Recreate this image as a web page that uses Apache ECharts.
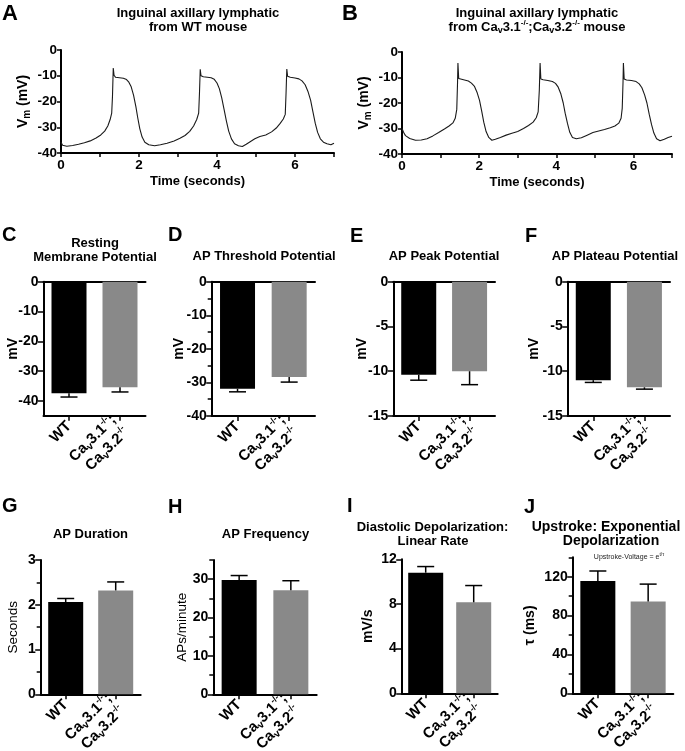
<!DOCTYPE html>
<html>
<head>
<meta charset="utf-8">
<script src="https://cdn.jsdelivr.net/npm/echarts@6.0.0/dist/echarts.min.js"></script>
<style>
html,body{margin:0;padding:0;background:#fff;}
#chart{width:685px;height:751px;}
</style>
</head>
<body>
<div id="chart"></div>
<script>
// ================= DATA =================
// Panel A trace (WT): time (s) and membrane potential (mV)
const traceATime = [0.00,0.04,0.15,0.30,0.45,0.60,0.75,0.90,1.02,1.12,1.20,1.26,1.30,1.32,1.34,1.36,1.40,1.50,1.60,1.68,1.74,1.80,1.86,1.92,1.97,2.02,2.08,2.15,2.25,2.40,2.55,2.72,2.90,3.05,3.18,3.30,3.40,3.48,3.53,3.55,3.57,3.59,3.65,3.75,3.85,3.93,4.00,4.06,4.12,4.18,4.24,4.30,4.37,4.45,4.55,4.65,4.75,4.85,4.97,5.10,5.25,5.40,5.52,5.62,5.70,5.75,5.77,5.79,5.81,5.88,6.00,6.10,6.18,6.26,6.33,6.40,6.46,6.52,6.58,6.65,6.73,6.82,6.92,7.00];
const traceAVm   = [-35.8,-37.0,-37.4,-37.1,-36.6,-36.0,-35.3,-34.2,-33.0,-31.5,-29.5,-27.0,-24.5,-18.0,-7.0,-9.8,-10.6,-10.8,-11.0,-11.5,-12.5,-14.3,-17.5,-22.0,-26.5,-30.5,-33.8,-35.8,-36.8,-37.2,-36.8,-36.2,-35.3,-34.3,-33.2,-31.6,-29.5,-27.0,-24.5,-17.0,-7.5,-10.0,-10.4,-10.6,-10.8,-11.4,-12.8,-15.0,-18.5,-23.0,-27.5,-31.5,-34.5,-36.4,-37.2,-37.5,-36.6,-35.6,-34.5,-33.6,-33.0,-31.8,-30.3,-28.5,-26.8,-25.0,-17.0,-7.4,-10.2,-10.6,-10.9,-11.2,-12.0,-13.5,-16.0,-19.5,-24.0,-28.5,-32.0,-34.5,-35.8,-36.4,-36.8,-36.2];
// Panel B trace (Cav3.1-/-;Cav3.2-/-)
const traceBTime = [0.00,0.04,0.09,0.20,0.35,0.50,0.65,0.80,0.95,1.10,1.22,1.32,1.38,1.42,1.44,1.45,1.47,1.52,1.62,1.72,1.80,1.88,1.95,2.01,2.07,2.12,2.18,2.25,2.33,2.42,2.55,2.70,2.85,3.00,3.15,3.28,3.40,3.48,3.53,3.56,3.58,3.60,3.66,3.78,3.90,3.98,4.05,4.12,4.18,4.23,4.29,4.35,4.42,4.52,4.65,4.80,4.95,5.10,5.25,5.40,5.52,5.62,5.68,5.71,5.73,5.74,5.76,5.82,5.95,6.07,6.15,6.22,6.29,6.35,6.41,6.47,6.53,6.60,6.69,6.80,6.90,7.00];
const traceBVm   = [-30.0,-31.5,-32.8,-33.9,-34.6,-34.5,-34.0,-32.9,-31.6,-30.2,-29.0,-27.8,-26.0,-22.5,-12.0,-4.3,-10.4,-10.8,-11.0,-11.4,-12.2,-13.5,-16.0,-19.0,-23.5,-27.5,-31.2,-33.5,-34.6,-34.2,-33.5,-32.6,-31.9,-31.2,-30.0,-28.8,-27.5,-25.8,-23.5,-15.0,-4.3,-10.6,-10.9,-11.2,-11.6,-12.3,-13.8,-16.5,-20.0,-24.0,-28.0,-31.5,-33.5,-34.0,-33.6,-32.6,-31.6,-31.0,-30.4,-29.7,-29.0,-27.9,-26.0,-22.0,-12.0,-4.3,-10.6,-11.0,-11.2,-11.6,-12.5,-14.0,-16.8,-20.0,-24.5,-28.5,-31.8,-34.0,-34.8,-34.2,-33.5,-33.0];
const traceXTicks  = [0,1,2,3,4,5,6,7];
const traceXLabels = [0,2,4,6];
const traceYTicks  = [0,-10,-20,-30,-40];

// Bar panels: groups, means and SEM
const groups = ['WT', 'Cav3.1-/-;Cav3.2-/-'];
const restingMean    = [-37.4, -35.4];  const restingSem    = [1.3, 1.6];
const thresholdMean  = [-31.9, -28.4];  const thresholdSem  = [0.9, 1.5];
const peakMean       = [-10.4, -10.0];  const peakSem       = [0.6, 1.5];
const plateauMean    = [-11.0, -11.8];  const plateauSem    = [0.25, 0.2];
const durationMean   = [2.06, 2.32];    const durationSem   = [0.08, 0.19];
const frequencyMean  = [29.8, 27.1];    const frequencySem  = [1.15, 2.5];
const diastolicMean  = [10.8, 8.15];    const diastolicSem  = [0.55, 1.5];
const upstrokeMean   = [115.5, 94.5];   const upstrokeSem   = [10.4, 17.9];

// Tick values
const restingTicks   = [0,-10,-20,-30,-40];
const thresholdTicks = [0,-10,-20,-30,-40]; const thresholdMinor = [-5,-15,-25,-35];
const peakTicks      = [0,-5,-10,-15];
const plateauTicks   = [0,-5,-10,-15];
const durationTicks  = [0,1,2,3];           const durationMinor  = [0.5,1.5,2.5];
const frequencyTicks = [0,10,20,30];        const frequencyMinor = [5,15,25,35];
const diastolicTicks = [0,4,8,12];
const upstrokeTicks  = [0,40,80,120];       const upstrokeMinor  = [20,60,100,140];

// ================= BUILD =================
const FONT = '"Liberation Sans", Arial, Helvetica, sans-serif';
const BAR_COLORS = ['#000000', '#898989'];
const SUBRICH = {
  n: {fontSize: 15, fontWeight: 'bold', fontFamily: FONT, color: '#000', lineHeight: 18},
  s: {fontSize: 10, fontWeight: 'bold', fontFamily: FONT, color: '#000', verticalAlign: 'bottom'},
  p: {fontSize: 9, fontWeight: 'bold', fontFamily: FONT, color: '#000', verticalAlign: 'top'}
};

const option = {
  animation: false,
  backgroundColor: '#ffffff',
  grid: [], xAxis: [], yAxis: [], series: [], graphic: []
};

function tickLabelStyle(size, extra) {
  return Object.assign({color: '#000', fontFamily: FONT, fontWeight: 'bold', fontSize: size}, extra || {});
}

function addTrace(p) {
  const gi = option.grid.length;
  option.grid.push({left: p.left, top: p.top, width: p.width, height: p.height, containLabel: false, outerBoundsMode: 'none'});
  const xi = option.xAxis.length;
  option.xAxis.push({
    gridIndex: gi, type: 'value', min: 0, max: 7,
    axisLine: {show: true, onZero: false, lineStyle: {color: '#000', width: 2}},
    axisTick: {show: true, customValues: traceXTicks, length: 4, lineStyle: {color: '#000', width: 1.5}},
    axisLabel: tickLabelStyle(13.5, {customValues: traceXLabels, margin: 5}),
    splitLine: {show: false},
    name: 'Time (seconds)', nameLocation: 'middle', nameGap: 22, nameMoveOverlap: false,
    nameTextStyle: {color: '#000', fontFamily: FONT, fontWeight: 'bold', fontSize: 13}
  });
  const yi = option.yAxis.length;
  option.yAxis.push({
    gridIndex: gi, type: 'value', min: -40, max: 0,
    axisLine: {show: true, onZero: false, lineStyle: {color: '#000', width: 2}},
    axisTick: {show: true, customValues: traceYTicks, length: 4, lineStyle: {color: '#000', width: 1.5}},
    axisLabel: tickLabelStyle(13.5, {customValues: traceYTicks, margin: 4}),
    splitLine: {show: false},
    name: '{b|V}{s|m}{b| (mV)}', nameLocation: 'middle', nameGap: 29, nameMoveOverlap: false,
    nameTextStyle: {color: '#000', rich: {
      b: {fontSize: 14, fontWeight: 'bold', fontFamily: FONT, color: '#000', lineHeight: 18},
      s: {fontSize: 10, fontWeight: 'bold', fontFamily: FONT, color: '#000', verticalAlign: 'bottom'}
    }}
  });
  option.series.push({
    type: 'line', xAxisIndex: xi, yAxisIndex: yi, showSymbol: false, symbol: 'none',
    data: p.time.map((t, i) => [t, p.vm[i]]),
    lineStyle: {color: '#1a1a1a', width: 1.1}, silent: true
  });
}

function catFormatter(v) {
  if (v === 'WT') return '{n|WT}';
  return '{n|Ca}{s|v}{n|3.1}{p|-/-}{n|;}\n{n|Ca}{s|v}{n|3.2}{p|-/-}';
}

function errRender(params, api) {
  const c = api.value(0);
  const p1 = api.coord([c, api.value(1)]);
  const p2 = api.coord([c, api.value(2)]);
  const hw = 8.5;
  return {type: 'group', children: [
    {type: 'line', shape: {x1: p1[0], y1: p1[1], x2: p2[0], y2: p2[1]}, style: {stroke: '#000', lineWidth: 1.5}},
    {type: 'line', shape: {x1: p2[0] - hw, y1: p2[1], x2: p2[0] + hw, y2: p2[1]}, style: {stroke: '#000', lineWidth: 1.5}}
  ]};
}

function addBars(p) {
  const rect = {left: p.left, top: p.top, width: p.width, height: p.height, containLabel: false, outerBoundsMode: 'none'};
  // optional overlay grid holding only the short minor ticks of the value axis
  if (p.minor) {
    const mg = option.grid.length;
    option.grid.push(Object.assign({}, rect));
    option.xAxis.push({gridIndex: mg, type: 'value', min: 0, max: 1, show: false});
    option.yAxis.push({
      gridIndex: mg, type: 'value', min: p.min, max: p.max, position: 'left',
      axisLine: {show: false, onZero: false},
      axisTick: {show: true, customValues: p.minor, length: 4, lineStyle: {color: '#000', width: 1.5}},
      axisLabel: {show: false}, splitLine: {show: false}
    });
  }
  const gi = option.grid.length;
  option.grid.push(Object.assign({}, rect));
  const xi = option.xAxis.length;
  option.xAxis.push({
    gridIndex: gi, type: 'category', data: groups, position: 'bottom', boundaryGap: true,
    axisLine: {show: true, onZero: false, lineStyle: {color: '#000', width: 2}},
    axisTick: {show: true, alignWithLabel: true, length: 5, lineStyle: {color: '#000', width: 1.5}},
    axisLabel: {interval: 0, rotate: 45, margin: 8, formatter: catFormatter, rich: SUBRICH},
    splitLine: {show: false}
  });
  if (p.min < 0) {
    option.xAxis.push({
      gridIndex: gi, type: 'category', data: groups, position: 'top',
      axisLine: {show: true, onZero: false, lineStyle: {color: '#000', width: 2}},
      axisTick: {show: false}, axisLabel: {show: false}, splitLine: {show: false}
    });
  }
  const yi = option.yAxis.length;
  option.yAxis.push({
    gridIndex: gi, type: 'value', min: p.min, max: p.max, position: 'left',
    axisLine: {show: true, onZero: false, lineStyle: {color: '#000', width: 2}},
    axisTick: {show: true, customValues: p.ticks, length: 5.5, lineStyle: {color: '#000', width: 1.5}},
    axisLabel: tickLabelStyle(14, {customValues: p.ticks, margin: 5}),
    splitLine: {show: false},
    name: p.name, nameLocation: 'middle', nameGap: p.nameGap, nameMoveOverlap: false,
    nameTextStyle: {color: '#000', fontFamily: FONT, fontWeight: p.nameWeight || 'bold', fontSize: p.nameSize || 14}
  });
  option.series.push({
    type: 'bar', xAxisIndex: xi, yAxisIndex: yi, barWidth: 35, silent: true,
    data: p.mean.map((v, i) => ({value: v, itemStyle: {color: BAR_COLORS[i]}}))
  });
  option.series.push({
    type: 'custom', xAxisIndex: xi, yAxisIndex: yi, silent: true, z: 5,
    renderItem: errRender, encode: {x: 0, y: [1, 2]},
    data: p.mean.map((v, i) => [i, v, v < 0 ? v - p.sem[i] : v + p.sem[i]])
  });
}

function text(x, y, str, size, weight, align, rich) {
  const st = {text: str, fill: '#000', fontSize: size, fontWeight: weight, fontFamily: FONT,
              align: align, textAlign: align, verticalAlign: 'middle', textVerticalAlign: 'middle'};
  if (rich) st.rich = rich;
  option.graphic.push({type: 'text', x: x, y: y, silent: true, style: st});
}

// ---- Traces ----
addTrace({left: 61, top: 50, width: 273, height: 103, time: traceATime, vm: traceAVm});
addTrace({left: 402, top: 52, width: 270, height: 102, time: traceBTime, vm: traceBVm});

// ---- Bars ----
addBars({left: 43.5, top: 281.7, width: 102, height: 134.1, min: -45, max: 0, ticks: restingTicks,
  mean: restingMean, sem: restingSem, name: 'mV', nameGap: 23});
addBars({left: 211.7, top: 281.7, width: 103.3, height: 134.3, min: -40, max: 0, ticks: thresholdTicks, minor: thresholdMinor,
  mean: thresholdMean, sem: thresholdSem, name: 'mV', nameGap: 25.5});
addBars({left: 393.3, top: 281.7, width: 101.7, height: 134.3, min: -15, max: 0, ticks: peakTicks,
  mean: peakMean, sem: peakSem, name: 'mV', nameGap: 24.5});
addBars({left: 567.7, top: 281.7, width: 102.3, height: 134.3, min: -15, max: 0, ticks: plateauTicks,
  mean: plateauMean, sem: plateauSem, name: 'mV', nameGap: 26.5});
addBars({left: 40.7, top: 560, width: 100, height: 134.3, min: 0, max: 3, ticks: durationTicks, minor: durationMinor,
  mean: durationMean, sem: durationSem, name: 'Seconds', nameGap: 20.5, nameWeight: 'normal', nameSize: 13.5});
addBars({left: 213.3, top: 560, width: 103.4, height: 134.3, min: 0, max: 35, ticks: frequencyTicks, minor: frequencyMinor,
  mean: frequencyMean, sem: frequencySem, name: 'APs/minute', nameGap: 24, nameWeight: 'normal', nameSize: 13.5});
addBars({left: 401.7, top: 559.3, width: 96, height: 134, min: 0, max: 12, ticks: diastolicTicks,
  mean: diastolicMean, sem: diastolicSem, name: 'mV/s', nameGap: 26.5});
addBars({left: 572.7, top: 557.3, width: 100.6, height: 136, min: 0, max: 140, ticks: upstrokeTicks, minor: upstrokeMinor,
  mean: upstrokeMean, sem: upstrokeSem, name: 'τ (ms)', nameGap: 35.5});

// ---- Panel letters ----
text(2, 13.5, 'A', 22, 'bold', 'left');
text(342, 13.5, 'B', 22, 'bold', 'left');
text(2, 235, 'C', 20, 'bold', 'left');
text(168, 235.5, 'D', 20, 'bold', 'left');
text(350, 236, 'E', 20, 'bold', 'left');
text(525, 236, 'F', 20, 'bold', 'left');
text(2, 506, 'G', 20, 'bold', 'left');
text(168, 507, 'H', 20, 'bold', 'left');
text(347, 506.5, 'I', 20, 'bold', 'left');
text(524, 507, 'J', 20, 'bold', 'left');

// ---- Titles ----
const TR = {
  n: {fontSize: 13, fontWeight: 'bold', fontFamily: FONT, fill: '#000', color: '#000', lineHeight: 16},
  s: {fontSize: 9, fontWeight: 'bold', fontFamily: FONT, fill: '#000', color: '#000', verticalAlign: 'bottom'},
  p: {fontSize: 8, fontWeight: 'bold', fontFamily: FONT, fill: '#000', color: '#000', verticalAlign: 'top'}
};
text(198, 13.5, 'Inguinal axillary lymphatic', 13, 'bold', 'center');
text(198, 27, 'from WT mouse', 13, 'bold', 'center');
text(537, 13.5, 'Inguinal axillary lymphatic', 13, 'bold', 'center');
text(537, 27, '{n|from Ca}{s|v}{n|3.1}{p|-/-}{n|;Ca}{s|v}{n|3.2}{p|-/-}{n| mouse}', 13, 'bold', 'center', TR);
text(95, 243, 'Resting', 13, 'bold', 'center');
text(95, 257, 'Membrane Potential', 13, 'bold', 'center');
text(264, 256.5, 'AP Threshold Potential', 13, 'bold', 'center');
text(444, 256.5, 'AP Peak Potential', 13, 'bold', 'center');
text(615, 256.5, 'AP Plateau Potential', 13, 'bold', 'center');
text(90.5, 534, 'AP Duration', 13, 'bold', 'center');
text(265.5, 534, 'AP Frequency', 13, 'bold', 'center');
text(432.5, 527, 'Diastolic Depolarization:', 13, 'bold', 'center');
text(433, 541.5, 'Linear Rate', 13, 'bold', 'center');
text(606, 527, 'Upstroke: Exponential', 14, 'bold', 'center');
text(611, 541.5, 'Depolarization', 14, 'bold', 'center');
text(629, 557, '{a|Upstroke-Voltage = e}{b|t/τ}', 7, 'normal', 'center', {
  a: {fontSize: 7, fontFamily: FONT, fill: '#222', color: '#222', lineHeight: 10},
  b: {fontSize: 5, fontFamily: FONT, fill: '#222', color: '#222', verticalAlign: 'top'}
});

const chart = echarts.init(document.getElementById('chart'), null, {renderer: 'canvas', width: 685, height: 751});
chart.setOption(option);
</script>
</body>
</html>
